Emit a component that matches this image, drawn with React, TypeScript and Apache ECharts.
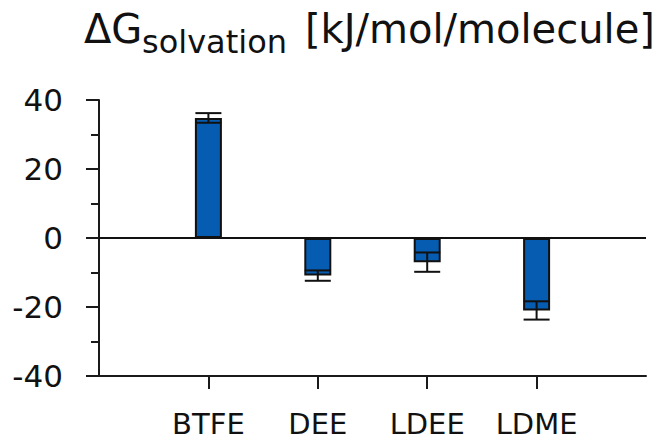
import React, { useEffect, useRef } from "react";
import * as echarts from "echarts";

// Solvation free energy per solvent, with its uncertainty
const solvents = ["BTFE", "DEE", "LDEE", "LDME"];
const deltaG = [34.8, -10.9, -7.0, -21.0];
const deltaGErr = [1.4, 1.5, 2.8, 2.65];
const yTicks = [-40, -20, 0, 20, 40];

const FONT = "DejaVu Sans";
const INK = "#111111";
const BAR = "#065cb0";

export default function App() {
  const ref = useRef<HTMLDivElement>(null);

  useEffect(() => {
    document.body.style.margin = "0";
    if (!ref.current) return;
    const chart = echarts.init(ref.current, undefined, { renderer: "svg" });

    // empty slots at both ends give the axis its margins around the bars
    const categories = ["", ...solvents, ""];
    const barData = ["-", ...deltaG, "-"];
    const errData = solvents.map((_, i) => [
      i + 1,
      deltaG[i] - deltaGErr[i],
      deltaG[i] + deltaGErr[i],
    ]);

    chart.setOption({
      animation: false,
      backgroundColor: "#ffffff",
      textStyle: { fontFamily: FONT },
      grid: { left: 99, right: 18, top: 100, bottom: 66, containLabel: false },
      graphic: [
        {
          type: "text",
          left: 84,
          top: 9,
          style: { text: "ΔG", font: `40px "${FONT}"`, fill: INK },
        },
        {
          type: "text",
          left: 142,
          top: 26,
          style: { text: "solvation", font: `32px "${FONT}"`, fill: INK },
        },
        {
          type: "text",
          left: 305,
          top: 9,
          style: { text: "[kJ/mol/molecule]", font: `40px "${FONT}"`, fill: INK },
        },
      ],
      xAxis: {
        type: "category",
        data: categories,
        boundaryGap: false,
        axisLine: { onZero: false, lineStyle: { color: "#1a1a1a", width: 2 } },
        axisTick: {
          show: true,
          length: 13,
          lineStyle: { color: "#1a1a1a", width: 2 },
          interval: (_i: number, v: string) => v !== "",
        },
        axisLabel: {
          interval: 0,
          fontSize: 29,
          lineHeight: 24,
          fontFamily: FONT,
          color: INK,
          margin: 36,
        },
        splitLine: { show: false },
      },
      yAxis: {
        type: "value",
        min: yTicks[0],
        max: yTicks[yTicks.length - 1],
        interval: 20,
        axisLine: { show: true, lineStyle: { color: "#1a1a1a", width: 2 } },
        axisTick: { show: true, length: 13, lineStyle: { color: "#1a1a1a", width: 2 } },
        minorTick: {
          show: true,
          splitNumber: 2,
          length: 8,
          lineStyle: { color: "#1a1a1a", width: 2 },
        },
        axisLabel: {
          fontSize: 31,
          fontFamily: FONT,
          color: INK,
          margin: 36,
        },
        splitLine: { show: false },
      },
      series: [
        {
          type: "bar",
          data: barData,
          barWidth: 27,
          itemStyle: { color: BAR, borderColor: "#111111", borderWidth: 2 },
          markLine: {
            silent: true,
            symbol: "none",
            label: { show: false },
            lineStyle: { color: "#111111", width: 2, type: "solid" },
            data: [{ yAxis: 0 }],
          },
          z: 2,
        },
        {
          type: "custom",
          data: errData,
          z: 3,
          renderItem: (_params: any, api: any) => {
            const x = api.value(0);
            const lo = api.coord([x, api.value(1)]);
            const hi = api.coord([x, api.value(2)]);
            const half = 13;
            const style = { stroke: "#111111", lineWidth: 2 };
            return {
              type: "group",
              children: [
                { type: "line", shape: { x1: lo[0], y1: lo[1], x2: hi[0], y2: hi[1] }, style },
                { type: "line", shape: { x1: lo[0] - half, y1: lo[1], x2: lo[0] + half, y2: lo[1] }, style },
                { type: "line", shape: { x1: hi[0] - half, y1: hi[1], x2: hi[0] + half, y2: hi[1] }, style },
              ],
            };
          },
        },
      ],
    });

    return () => chart.dispose();
  }, []);

  return <div ref={ref} style={{ width: 664, height: 442 }} />;
}
